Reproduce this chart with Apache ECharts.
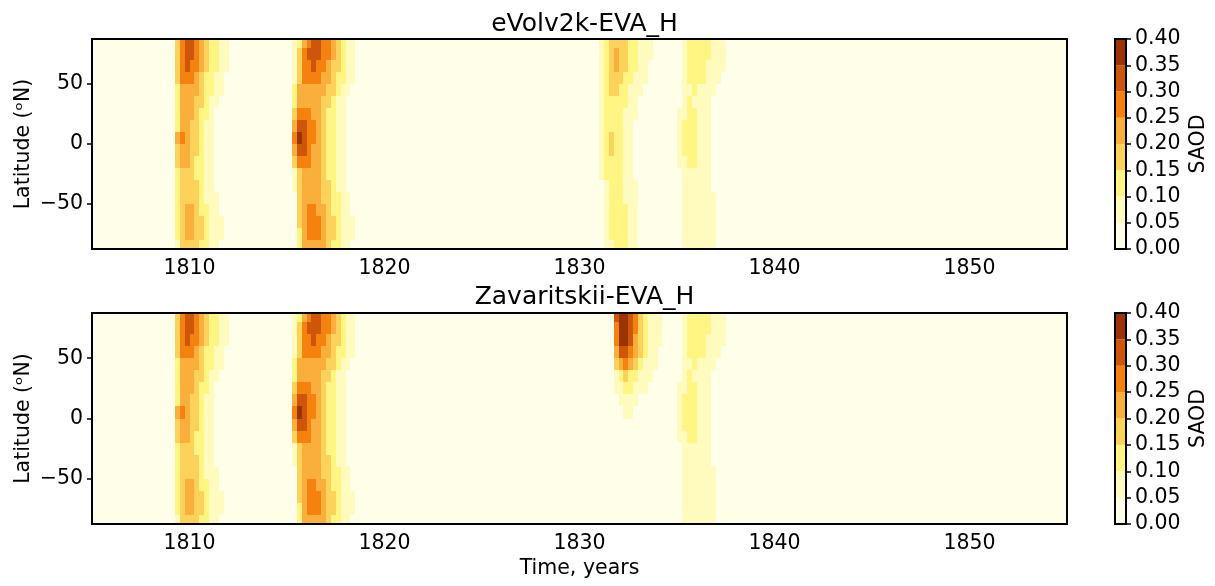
<!DOCTYPE html>
<html>
<head>
<meta charset="utf-8">
<script src="https://cdn.jsdelivr.net/npm/echarts@6/dist/echarts.min.js"></script>
<style>
  html, body { margin: 0; padding: 0; background: #ffffff; font-family: 'DejaVu Sans'; }
  #chart { width: 1215px; height: 586px; }
</style>
</head>
<body>
<div id="chart"></div>
<script>
// ---- contour levels (SAOD) and their fill colours ----
const saodLevels = [0, 0.05, 0.10, 0.15, 0.20, 0.25, 0.30, 0.35, 0.40];
const levelColors = ['#fffee8', '#fffabe', '#fff582', '#fdd25a', '#faaf3c', '#f5820f', '#cd560a', '#9c3305'];

// ---- axes ----
const yearTicks = [1810, 1820, 1830, 1840, 1850];
const latTicks = [-50, 0, 50];
const timeRange = [1805, 1855];
const latRange = [-87.5, 87.5];
const panelTitles = ['eVolv2k-EVA_H', 'Zavaritskii-EVA_H'];

// ---- SAOD field: quarterly values in 10° latitude bands ----
const timeStep = 0.25;
const latRows = [85, 75, 65, 55, 45, 35, 25, 15, 5, -5, -15, -25, -35, -45, -55, -65, -75, -85];

// 1809 unidentified eruption, rows follow latRows, columns every quarter from start
const eruption1809 = { start: 1809.25, rows: [
  [0.17, 0.27, 0.32, 0.31, 0.27, 0.22, 0.17, 0.12, 0.11, 0.08, 0.06, 0.03],
  [0.17, 0.28, 0.33, 0.32, 0.27, 0.22, 0.17, 0.12, 0.11, 0.08, 0.06, 0.03],
  [0.16, 0.27, 0.31, 0.28, 0.26, 0.21, 0.16, 0.12, 0.10, 0.07, 0.06, 0.03],
  [0.15, 0.26, 0.27, 0.26, 0.23, 0.18, 0.14, 0.11, 0.08, 0.07, 0.04],
  [0.14, 0.22, 0.24, 0.23, 0.21, 0.17, 0.13, 0.10, 0.07, 0.06, 0.03],
  [0.13, 0.21, 0.23, 0.22, 0.19, 0.16, 0.12, 0.09, 0.07, 0.04],
  [0.12, 0.20, 0.21, 0.20, 0.17, 0.14, 0.11, 0.07, 0.04],
  [0.13, 0.21, 0.20, 0.18, 0.16, 0.13, 0.09, 0.06, 0.03],
  [0.22, 0.26, 0.22, 0.19, 0.16, 0.13, 0.09, 0.06, 0.04],
  [0.19, 0.23, 0.21, 0.18, 0.15, 0.12, 0.09, 0.06, 0.03],
  [0.15, 0.20, 0.20, 0.17, 0.14, 0.11, 0.08, 0.06, 0.03],
  [0.12, 0.17, 0.18, 0.17, 0.14, 0.11, 0.08, 0.06, 0.04],
  [0.11, 0.16, 0.18, 0.17, 0.15, 0.12, 0.09, 0.06, 0.04],
  [0.10, 0.16, 0.19, 0.18, 0.16, 0.12, 0.09, 0.07, 0.05, 0.03],
  [0.10, 0.16, 0.21, 0.21, 0.18, 0.14, 0.11, 0.08, 0.06, 0.04],
  [0.10, 0.17, 0.22, 0.22, 0.19, 0.15, 0.11, 0.09, 0.06, 0.05, 0.03],
  [0.10, 0.16, 0.21, 0.21, 0.18, 0.15, 0.11, 0.08, 0.06, 0.05, 0.03],
  [0.09, 0.15, 0.18, 0.18, 0.16, 0.13, 0.10, 0.08, 0.06, 0.04]
]};

// 1815 Tambora
const eruption1815 = { start: 1815.25, rows: [
  [0.05, 0.14, 0.23, 0.29, 0.32, 0.31, 0.28, 0.26, 0.21, 0.16, 0.13, 0.09, 0.07, 0.03],
  [0.06, 0.16, 0.25, 0.31, 0.33, 0.32, 0.28, 0.26, 0.21, 0.16, 0.13, 0.09, 0.07, 0.03],
  [0.07, 0.17, 0.26, 0.29, 0.31, 0.29, 0.27, 0.24, 0.19, 0.15, 0.12, 0.09, 0.06, 0.03],
  [0.08, 0.18, 0.25, 0.27, 0.27, 0.26, 0.24, 0.21, 0.17, 0.14, 0.11, 0.08, 0.05, 0.03],
  [0.10, 0.21, 0.24, 0.24, 0.24, 0.23, 0.21, 0.18, 0.15, 0.12, 0.09, 0.06, 0.04],
  [0.13, 0.23, 0.24, 0.24, 0.23, 0.21, 0.18, 0.15, 0.12, 0.09, 0.06, 0.04],
  [0.17, 0.26, 0.26, 0.25, 0.23, 0.20, 0.17, 0.14, 0.11, 0.08, 0.05, 0.03],
  [0.22, 0.31, 0.31, 0.28, 0.25, 0.21, 0.18, 0.14, 0.11, 0.08, 0.05, 0.03],
  [0.26, 0.36, 0.32, 0.29, 0.25, 0.21, 0.18, 0.14, 0.11, 0.08, 0.05, 0.03],
  [0.22, 0.33, 0.31, 0.28, 0.24, 0.21, 0.18, 0.14, 0.11, 0.08, 0.05, 0.03],
  [0.16, 0.27, 0.28, 0.26, 0.23, 0.20, 0.17, 0.14, 0.11, 0.08, 0.06, 0.04],
  [0.06, 0.18, 0.23, 0.24, 0.23, 0.20, 0.17, 0.14, 0.11, 0.08, 0.06, 0.03],
  [0.05, 0.16, 0.22, 0.24, 0.24, 0.22, 0.18, 0.15, 0.12, 0.09, 0.06, 0.04],
  [0.04, 0.15, 0.22, 0.24, 0.24, 0.23, 0.19, 0.16, 0.13, 0.10, 0.07, 0.05, 0.03],
  [0.04, 0.15, 0.22, 0.25, 0.26, 0.24, 0.20, 0.17, 0.14, 0.11, 0.08, 0.05, 0.03],
  [0.04, 0.15, 0.23, 0.27, 0.28, 0.27, 0.22, 0.18, 0.15, 0.12, 0.09, 0.06, 0.05],
  [0.04, 0.14, 0.23, 0.26, 0.27, 0.26, 0.22, 0.18, 0.15, 0.12, 0.09, 0.06, 0.05],
  [0.03, 0.12, 0.21, 0.23, 0.24, 0.23, 0.21, 0.17, 0.14, 0.11, 0.08, 0.06, 0.04]
]};

// 1831 eruption as reconstructed by eVolv2k
const eruption1831Evolv = { start: 1831.0, rows: [
  [0.05, 0.12, 0.16, 0.19, 0.18, 0.16, 0.13, 0.11, 0.09, 0.07, 0.06, 0.03],
  [0.05, 0.12, 0.17, 0.21, 0.19, 0.16, 0.13, 0.11, 0.09, 0.07, 0.05, 0.03],
  [0.05, 0.12, 0.17, 0.20, 0.18, 0.15, 0.12, 0.10, 0.08, 0.06, 0.04],
  [0.05, 0.12, 0.16, 0.17, 0.16, 0.13, 0.11, 0.09, 0.07, 0.05, 0.03],
  [0.05, 0.12, 0.15, 0.15, 0.13, 0.11, 0.09, 0.07, 0.06, 0.04],
  [0.05, 0.11, 0.13, 0.13, 0.12, 0.10, 0.08, 0.06, 0.04],
  [0.05, 0.11, 0.12, 0.12, 0.11, 0.09, 0.07, 0.05, 0.03],
  [0.06, 0.13, 0.14, 0.12, 0.10, 0.08, 0.06, 0.04],
  [0.07, 0.14, 0.17, 0.13, 0.11, 0.08, 0.06, 0.04],
  [0.07, 0.14, 0.16, 0.13, 0.11, 0.08, 0.06, 0.04],
  [0.06, 0.12, 0.13, 0.12, 0.10, 0.08, 0.06, 0.04],
  [0.05, 0.10, 0.12, 0.11, 0.10, 0.08, 0.06, 0.04],
  [0.04, 0.09, 0.11, 0.11, 0.10, 0.08, 0.06, 0.05, 0.03],
  [0.04, 0.08, 0.11, 0.12, 0.11, 0.09, 0.07, 0.05, 0.03],
  [0.03, 0.08, 0.11, 0.13, 0.13, 0.11, 0.08, 0.06, 0.04],
  [0.03, 0.08, 0.11, 0.14, 0.14, 0.12, 0.09, 0.06, 0.04],
  [0.03, 0.07, 0.10, 0.13, 0.13, 0.11, 0.08, 0.06, 0.04],
  [0.03, 0.07, 0.09, 0.11, 0.11, 0.10, 0.08, 0.06, 0.04]
]};

// 1831 eruption attributed to Zavaritskii
const eruption1831Zav = { start: 1831.5, rows: [
  [0.02, 0.30, 0.38, 0.38, 0.33, 0.26, 0.18, 0.13, 0.09, 0.07, 0.05, 0.03],
  [0.02, 0.29, 0.39, 0.38, 0.33, 0.26, 0.18, 0.13, 0.09, 0.07, 0.05, 0.03],
  [0.02, 0.27, 0.37, 0.36, 0.31, 0.24, 0.17, 0.12, 0.09, 0.07, 0.05],
  [0.02, 0.22, 0.32, 0.32, 0.27, 0.21, 0.15, 0.11, 0.08, 0.06, 0.04],
  [0.01, 0.15, 0.24, 0.25, 0.22, 0.17, 0.12, 0.09, 0.07, 0.05, 0.03],
  [0.01, 0.08, 0.13, 0.15, 0.14, 0.11, 0.09, 0.07, 0.05, 0.03],
  [0.00, 0.05, 0.08, 0.10, 0.10, 0.09, 0.07, 0.05, 0.03],
  [0.00, 0.03, 0.05, 0.07, 0.07, 0.06, 0.04, 0.03],
  [0.00, 0.02, 0.03, 0.05, 0.06, 0.04, 0.03],
  [0.00, 0.02, 0.02, 0.03, 0.03, 0.03],
  [], [], [], [], [], [], [], []
]};

// 1835 Cosigüina
const eruption1835 = { start: 1835.0, rows: [
  [0.04, 0.09, 0.11, 0.12, 0.12, 0.11, 0.10, 0.08, 0.07, 0.06, 0.04],
  [0.04, 0.09, 0.11, 0.12, 0.12, 0.11, 0.10, 0.08, 0.07, 0.06, 0.04],
  [0.04, 0.09, 0.11, 0.12, 0.12, 0.11, 0.09, 0.08, 0.07, 0.05, 0.03],
  [0.04, 0.08, 0.10, 0.11, 0.11, 0.10, 0.08, 0.07, 0.06, 0.04],
  [0.04, 0.08, 0.09, 0.10, 0.09, 0.08, 0.07, 0.06, 0.04],
  [0.04, 0.08, 0.10, 0.09, 0.08, 0.07, 0.06, 0.04],
  [0.05, 0.09, 0.11, 0.10, 0.08, 0.07, 0.05, 0.03],
  [0.05, 0.10, 0.12, 0.11, 0.09, 0.07, 0.05, 0.03],
  [0.05, 0.10, 0.12, 0.11, 0.09, 0.07, 0.05, 0.03],
  [0.05, 0.10, 0.12, 0.11, 0.09, 0.07, 0.05, 0.03],
  [0.05, 0.09, 0.11, 0.10, 0.08, 0.07, 0.05, 0.03],
  [0.04, 0.07, 0.08, 0.08, 0.08, 0.07, 0.05, 0.03],
  [0.03, 0.06, 0.07, 0.08, 0.08, 0.07, 0.06, 0.04],
  [0.03, 0.06, 0.07, 0.08, 0.08, 0.07, 0.06, 0.05, 0.03],
  [0.03, 0.05, 0.07, 0.08, 0.08, 0.08, 0.07, 0.06, 0.04],
  [0.03, 0.05, 0.07, 0.08, 0.09, 0.08, 0.07, 0.06, 0.04],
  [0.02, 0.05, 0.07, 0.08, 0.09, 0.08, 0.07, 0.06, 0.04],
  [0.02, 0.05, 0.07, 0.08, 0.08, 0.08, 0.07, 0.06, 0.04]
]};

const evolvEruptions = [eruption1809, eruption1815, eruption1831Evolv, eruption1835];
const zavaritskiiEruptions = [eruption1809, eruption1815, eruption1831Zav, eruption1835];

// Build the full time x latitude field; quarters with no eruption aerosol are 0
function buildField(eruptions) {
  const lookup = new Map();
  eruptions.forEach(e => {
    e.rows.forEach((row, r) => {
      row.forEach((v, c) => {
        const q = Math.round((e.start + c * timeStep) / timeStep);
        lookup.set(q + '|' + latRows[r], v);
      });
    });
  });
  const cells = [];
  const q0 = Math.round(timeRange[0] / timeStep);
  const q1 = Math.round(timeRange[1] / timeStep);
  for (let q = q0; q < q1; q++) {
    latRows.forEach(lat => {
      const v = lookup.get(q + '|' + lat);
      cells.push([q * timeStep, lat, v === undefined ? 0 : v]);
    });
  }
  return cells;
}

const FONT = 'DejaVu Sans';
const latHalf = (latRows[0] - latRows[1]) / 2;

function renderCell(params, api) {
  const t = api.value(0);
  const lat = api.value(1);
  const a = api.coord([t, lat + latHalf]);
  const b = api.coord([t + timeStep, lat - latHalf]);
  const cs = params.coordSys;
  const x0 = Math.max(Math.round(a[0]), Math.round(cs.x));
  const x1 = Math.min(Math.round(b[0]), Math.round(cs.x + cs.width));
  const y0 = Math.max(Math.round(a[1]), Math.round(cs.y));
  const y1 = Math.min(Math.round(b[1]), Math.round(cs.y + cs.height));
  if (x1 <= x0 || y1 <= y0) return null;
  return {
    type: 'rect',
    shape: { x: x0, y: y0, width: x1 - x0, height: y1 - y0 },
    style: { fill: api.visual('color') }
  };
}

const panelGrids = [
  { left: 92, top: 39, width: 975, height: 210 },
  { left: 92, top: 313, width: 975, height: 211 }
];
const barGrids = [
  { left: 1115, top: 39, width: 11, height: 210 },
  { left: 1115, top: 313, width: 11, height: 211 }
];

const frame = { show: true, borderColor: '#000', borderWidth: 2, backgroundColor: 'transparent', z: 10 };
const textBase = { color: '#000', fontFamily: FONT, fontSize: 20.5 };
const tickStyle = { show: true, inside: false, length: 5, lineStyle: { color: '#000', width: 1.5 } };

const grids = [];
const xAxes = [];
const yAxes = [];
const series = [];

[0, 1].forEach(p => {
  grids.push(Object.assign({}, panelGrids[p], frame));
});
[0, 1].forEach(p => {
  grids.push(Object.assign({}, barGrids[p], frame));
});

[0, 1].forEach(p => {
  xAxes.push({
    gridIndex: p, type: 'value', min: timeRange[0], max: timeRange[1],
    axisLine: { show: false },
    axisTick: Object.assign({ customValues: yearTicks }, tickStyle),
    axisLabel: Object.assign({ customValues: yearTicks, margin: 9, formatter: v => String(v) }, textBase),
    splitLine: { show: false },
    name: p === 1 ? 'Time, years' : '',
    nameLocation: 'middle', nameGap: 34,
    nameTextStyle: textBase
  });
  yAxes.push({
    gridIndex: p, type: 'value', min: latRange[0], max: latRange[1],
    axisLine: { show: false },
    axisTick: Object.assign({ customValues: latTicks }, tickStyle),
    axisLabel: Object.assign({
      customValues: latTicks, margin: 9,
      formatter: v => String(v).replace('-', '\u2212')
    }, textBase),
    splitLine: { show: false },
    name: 'Latitude (\u1d52N)', nameLocation: 'middle', nameRotate: 90, nameGap: 58,
    nameMoveOverlap: false,
    nameTextStyle: textBase
  });
});

[0, 1].forEach(p => {
  xAxes.push({ gridIndex: 2 + p, type: 'category', data: ['SAOD'], show: false });
  yAxes.push({
    gridIndex: 2 + p, type: 'value', position: 'right', min: 0, max: saodLevels[saodLevels.length - 1],
    interval: saodLevels[1] - saodLevels[0],
    axisLine: { show: false },
    axisTick: tickStyle,
    axisLabel: Object.assign({ margin: 9, formatter: v => v.toFixed(2) }, textBase),
    splitLine: { show: false },
    name: 'SAOD', nameLocation: 'middle', nameRotate: 90, nameGap: 62,
    nameMoveOverlap: false,
    nameTextStyle: textBase
  });
});

[evolvEruptions, zavaritskiiEruptions].forEach((eruptions, p) => {
  series.push({
    type: 'custom', name: panelTitles[p], xAxisIndex: p, yAxisIndex: p,
    renderItem: renderCell, data: buildField(eruptions), silent: true,
    encode: { x: 0, y: 1 }
  });
});

// colour bars: one stacked segment per contour level
[0, 1].forEach(p => {
  for (let i = 0; i < levelColors.length; i++) {
    series.push({
      type: 'bar', xAxisIndex: 2 + p, yAxisIndex: 2 + p, stack: 'cbar' + p,
      data: [+(saodLevels[i + 1] - saodLevels[i]).toFixed(2)],
      barWidth: '100%', itemStyle: { color: levelColors[i] }, silent: true
    });
  }
});

const option = {
  animation: false,
  backgroundColor: '#ffffff',
  title: panelTitles.map((t, p) => ({
    text: t, left: 579.5, top: p === 0 ? 7 : 280, textAlign: 'center',
    textStyle: { color: '#000', fontFamily: FONT, fontSize: 25, fontWeight: 'normal' }
  })),
  visualMap: {
    type: 'piecewise', show: false, seriesIndex: [0, 1], dimension: 2,
    pieces: levelColors.map((c, i) => (i === levelColors.length - 1
      ? { gte: saodLevels[i], lte: saodLevels[i + 1], color: c }
      : { gte: saodLevels[i], lt: saodLevels[i + 1], color: c }))
  },
  grid: grids,
  xAxis: xAxes,
  yAxis: yAxes,
  series: series
};

const chart = echarts.init(document.getElementById('chart'), null, { renderer: 'canvas' });
chart.setOption(option);

// redraw once the text face is available so canvas labels use its metrics
if (document.fonts && document.fonts.load) {
  Promise.all([
    document.fonts.load('20.5px "DejaVu Sans"'),
    document.fonts.load('25px "DejaVu Sans"')
  ]).then(() => {
    chart.clear();
    chart.setOption(option);
  });
}
</script>
</body>
</html>
